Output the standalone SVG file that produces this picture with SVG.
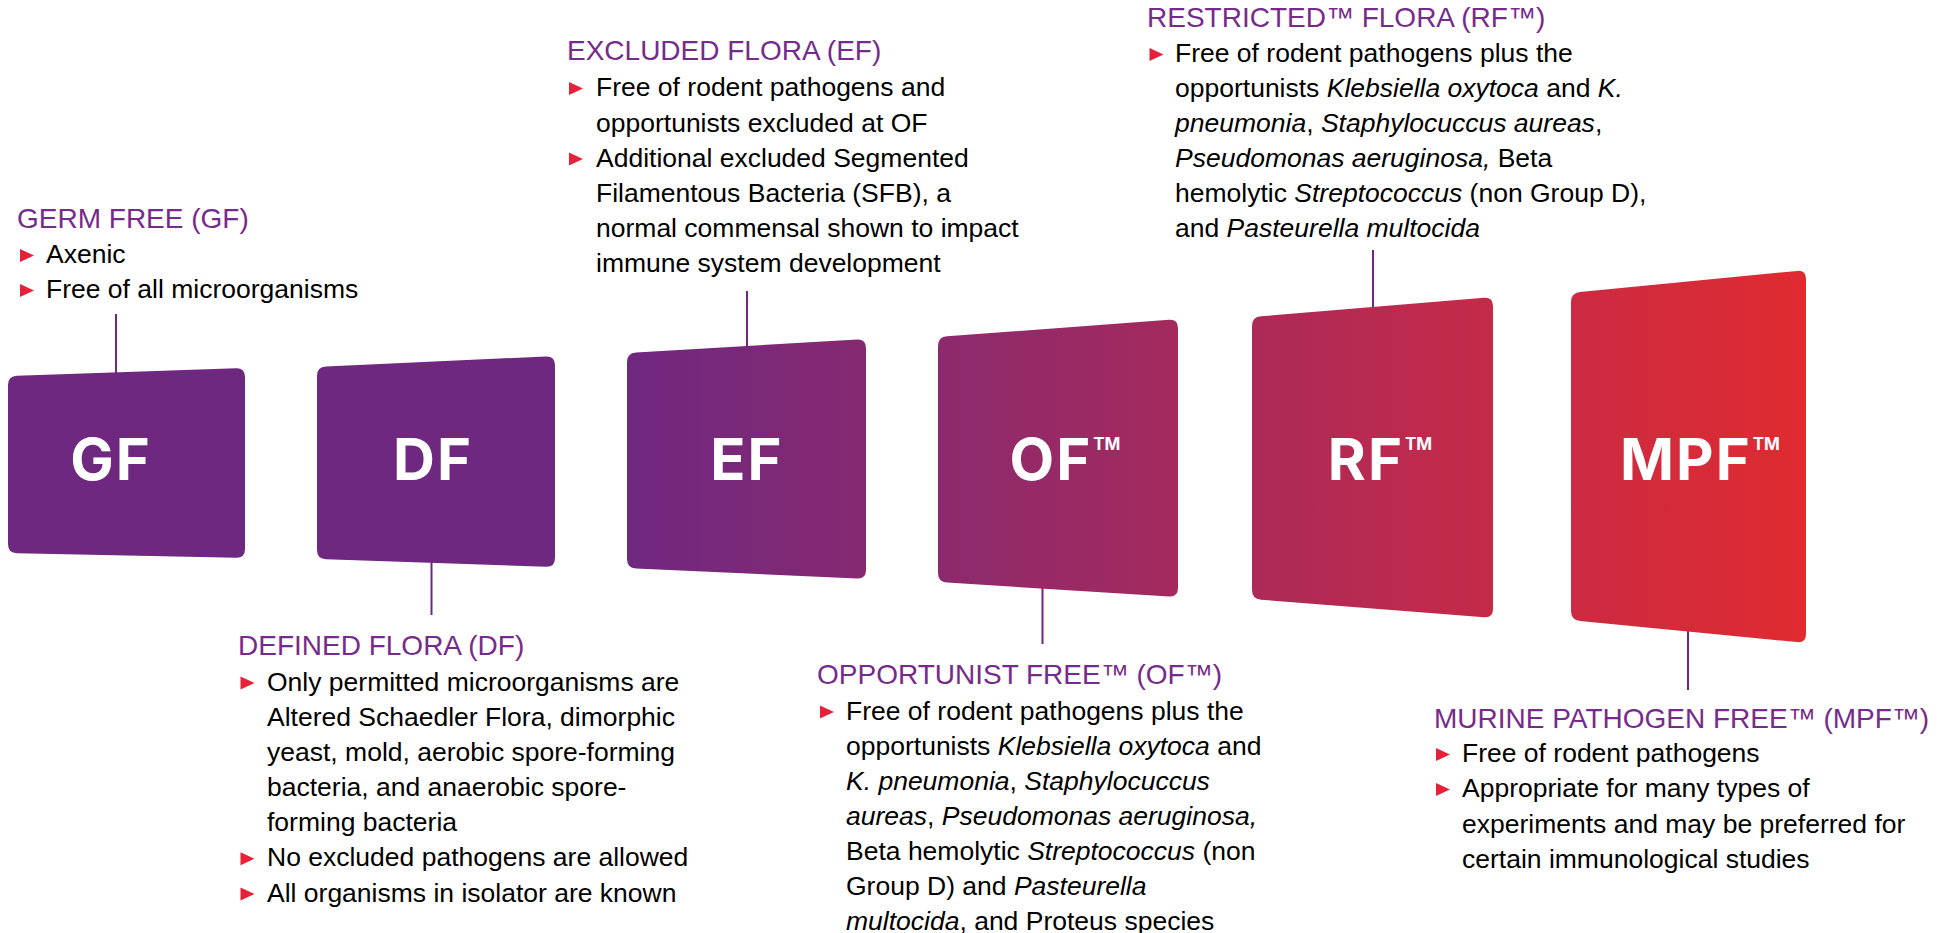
<svg xmlns="http://www.w3.org/2000/svg" xmlns:xlink="http://www.w3.org/1999/xlink" width="1946" height="933" viewBox="0 0 1946 933">
<defs>
<linearGradient id="grad" gradientUnits="userSpaceOnUse" x1="627" y1="0" x2="1806" y2="0">
<stop offset="0" stop-color="#6f2880"/>
<stop offset="0.36" stop-color="#972a66"/>
<stop offset="0.7" stop-color="#c12a4b"/>
<stop offset="1" stop-color="#e02b30"/>
</linearGradient>
<path id="tri" d="M0,-14 L14,-7.5 L0,-1 Z" fill="#e8213a"/>
<style>
.card-solid{fill:#6f2880}
.card-grad{fill:url(#grad)}
.lbl{font-family:Inter,"Open Sans","Liberation Sans",sans-serif;font-weight:700;font-size:58px;fill:#fff;text-anchor:middle;letter-spacing:2px}
.tm{font-size:17px;letter-spacing:0}
.ttl{font-family:"Liberation Sans",Arial,sans-serif;font-size:28px;fill:#762b8c}
.body{font-family:"Liberation Sans",Arial,sans-serif;font-size:26.5px;fill:#000}
.it{font-style:italic}
.conn{stroke:#6f2880;stroke-width:2;fill:none}
</style>
</defs>
<rect width="1946" height="933" fill="#fff"/>

<g id="connectors">
<line class="conn" x1="116" y1="314" x2="116" y2="373"/>
<line class="conn" x1="431.5" y1="562" x2="431.5" y2="615"/>
<line class="conn" x1="747" y1="291" x2="747" y2="347"/>
<line class="conn" x1="1042.5" y1="588" x2="1042.5" y2="644"/>
<line class="conn" x1="1373" y1="250" x2="1373" y2="308"/>
<line class="conn" x1="1688" y1="631" x2="1688" y2="690"/>
</g>

<g id="node-gf">
<path class="card-solid" d="M 8,385 Q 8,376 17,375.7 L 236,368.3 Q 245,368 245,377 L 245,549 Q 245,558 236,557.8 L 17,553.2 Q 8,553 8,544 Z"/>
<text class="lbl" x="111" y="480">GF</text>
<text class="ttl" x="17" y="228">GERM FREE (GF)</text>
<use xlink:href="#tri" x="20" y="263"/>
<use xlink:href="#tri" x="20" y="298"/>
<text class="body" x="46" y="263">Axenic</text>
<text class="body" x="46" y="298">Free of all microorganisms</text>
</g>

<g id="node-df">
<path class="card-solid" d="M 317,376 Q 317,367 326,366.6 L 546,356.4 Q 555,356 555,365 L 555,558 Q 555,567 546,566.7 L 326,559.3 Q 317,559 317,550 Z"/>
<text class="lbl" x="433" y="480">DF</text>
<text class="ttl" x="238" y="655">DEFINED FLORA (DF)</text>
<use xlink:href="#tri" x="240.5" y="690.5"/>
<use xlink:href="#tri" x="240.5" y="866.3"/>
<use xlink:href="#tri" x="240.5" y="901.5"/>
<text class="body" x="267" y="690.5">Only permitted microorganisms are</text>
<text class="body" x="267" y="725.7">Altered Schaedler Flora, dimorphic</text>
<text class="body" x="267" y="760.8">yeast, mold, aerobic spore-forming</text>
<text class="body" x="267" y="796">bacteria, and anaerobic spore-</text>
<text class="body" x="267" y="831.2">forming bacteria</text>
<text class="body" x="267" y="866.3">No excluded pathogens are allowed</text>
<text class="body" x="267" y="901.5">All organisms in isolator are known</text>
</g>

<g id="node-ef">
<path class="card-grad" d="M 627,362 Q 627,353 636,352.5 L 857,339.5 Q 866,339 866,348 L 866,570 Q 866,579 857,578.6 L 636,568.4 Q 627,568 627,559 Z"/>
<text class="lbl" x="747" y="480">EF</text>
<text class="ttl" x="567" y="60">EXCLUDED FLORA (EF)</text>
<use xlink:href="#tri" x="569" y="96"/>
<use xlink:href="#tri" x="569" y="166.5"/>
<text class="body" x="596" y="96">Free of rodent pathogens and</text>
<text class="body" x="596" y="131.5">opportunists excluded at OF</text>
<text class="body" x="596" y="166.5">Additional excluded Segmented</text>
<text class="body" x="596" y="201.5">Filamentous Bacteria (SFB), a</text>
<text class="body" x="596" y="236.5">normal commensal shown to impact</text>
<text class="body" x="596" y="271.5">immune system development</text>
</g>

<g id="node-of">
<path class="card-grad" d="M 938,346 Q 938,337 947,336.3 L 1169,319.7 Q 1178,319 1178,328 L 1178,588 Q 1178,597 1169,596.4 L 947,582.6 Q 938,582 938,573 Z"/>
<text class="lbl" x="1065" y="480">OF<tspan class="tm" dx="1" dy="-30">TM</tspan></text>
<text class="ttl" x="817" y="684">OPPORTUNIST FREE™ (OF™)</text>
<use xlink:href="#tri" x="820" y="719.5"/>
<text class="body" x="846" y="719.5">Free of rodent pathogens plus the</text>
<text class="body" x="846" y="754.5">opportunists <tspan class="it">Klebsiella oxytoca</tspan> and</text>
<text class="body" x="846" y="789.5"><tspan class="it">K. pneumonia</tspan>, <tspan class="it">Staphylocuccus</tspan></text>
<text class="body" x="846" y="825"><tspan class="it">aureas</tspan>, <tspan class="it">Pseudomonas aeruginosa,</tspan></text>
<text class="body" x="846" y="860">Beta hemolytic <tspan class="it">Streptococcus</tspan> (non</text>
<text class="body" x="846" y="895">Group D) and <tspan class="it">Pasteurella</tspan></text>
<text class="body" x="846" y="930"><tspan class="it">multocida</tspan>, and Proteus species</text>
</g>

<g id="node-rf">
<path class="card-grad" d="M 1252,326 Q 1252,317 1261,316.3 L 1484,297.7 Q 1493,297 1493,306 L 1493,609 Q 1493,618 1484,617.3 L 1261,599.7 Q 1252,599 1252,590 Z"/>
<text class="lbl" x="1380" y="480">RF<tspan class="tm" dx="1" dy="-30">TM</tspan></text>
<text class="ttl" x="1147" y="27">RESTRICTED™ FLORA (RF™)</text>
<use xlink:href="#tri" x="1149.5" y="62"/>
<text class="body" x="1175" y="62">Free of rodent pathogens plus the</text>
<text class="body" x="1175" y="97">opportunists <tspan class="it">Klebsiella oxytoca</tspan> and <tspan class="it">K.</tspan></text>
<text class="body" x="1175" y="132"><tspan class="it">pneumonia</tspan>, <tspan class="it">Staphylocuccus aureas</tspan>,</text>
<text class="body" x="1175" y="167"><tspan class="it">Pseudomonas aeruginosa,</tspan> Beta</text>
<text class="body" x="1175" y="202">hemolytic <tspan class="it">Streptococcus</tspan> (non Group D),</text>
<text class="body" x="1175" y="237">and <tspan class="it">Pasteurella multocida</tspan></text>
</g>

<g id="node-mpf">
<path class="card-grad" d="M 1571,302 Q 1571,293 1580,292.1 L 1797,270.9 Q 1806,270 1806,279 L 1806,634 Q 1806,643 1797,642.1 L 1580,620.9 Q 1571,620 1571,611 Z"/>
<text class="lbl" x="1700" y="480">MPF<tspan class="tm" dx="1" dy="-30">TM</tspan></text>
<text class="ttl" x="1434" y="728">MURINE PATHOGEN FREE™ (MPF™)</text>
<use xlink:href="#tri" x="1436" y="762"/>
<use xlink:href="#tri" x="1436" y="797"/>
<text class="body" x="1462" y="762">Free of rodent pathogens</text>
<text class="body" x="1462" y="797">Appropriate for many types of</text>
<text class="body" x="1462" y="832.5">experiments and may be preferred for</text>
<text class="body" x="1462" y="868">certain immunological studies</text>
</g>
</svg>
